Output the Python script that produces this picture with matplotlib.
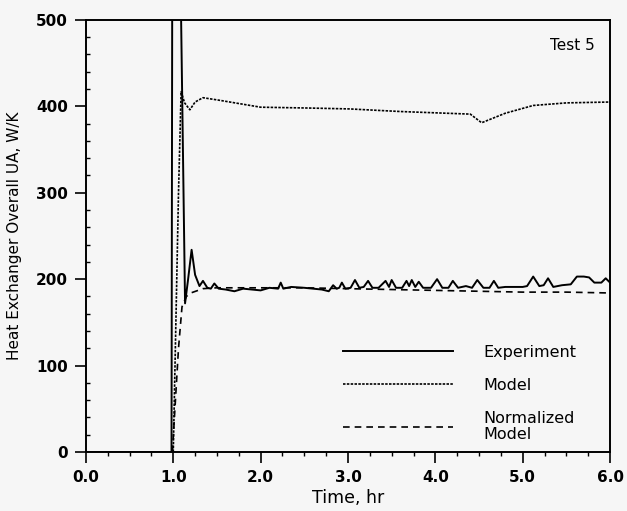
import matplotlib
matplotlib.use("Agg")
import matplotlib.pyplot as plt
from matplotlib.ticker import MultipleLocator, FormatStrFormatter

plt.rcParams['font.family'] = ['DejaVu Sans']

# Experiment (solid)
t_exp = [0, 0.98, 0.99, 1.075, 1.09, 1.135, 1.17, 1.21, 1.25, 1.30, 1.34, 1.39, 1.43, 1.47, 1.52,
         1.6, 1.7, 1.8, 1.9, 2.0, 2.1, 2.2, 2.23, 2.26, 2.35, 2.5, 2.6, 2.7, 2.78, 2.83, 2.87,
         2.90, 2.93, 2.97, 3.03, 3.08, 3.13, 3.18, 3.23, 3.28, 3.35, 3.43, 3.47, 3.50, 3.55,
         3.62, 3.67, 3.70, 3.73, 3.77, 3.81, 3.86, 3.95, 4.02, 4.08, 4.15, 4.20, 4.26, 4.35,
         4.42, 4.48, 4.55, 4.62, 4.67, 4.72, 4.8, 4.9, 5.0, 5.05, 5.12, 5.19, 5.24, 5.29, 5.35,
         5.45, 5.55, 5.62, 5.7, 5.76, 5.82, 5.9, 5.95, 6.0]
ua_exp = [0, 0, 650, 650, 500, 172, 200, 234, 205, 192, 198, 190, 189, 195, 189,
          188, 186, 189, 188, 187, 190, 189, 196, 189, 191, 190, 189, 188, 186, 193, 189,
          190, 196, 189, 190, 199, 190, 191, 198, 190, 190, 198, 191, 199, 190,
          190, 198, 192, 199, 191, 197, 190, 190, 200, 190, 190, 198, 190, 192,
          190, 199, 190, 190, 198, 190, 191, 191, 191, 192, 203, 192, 193, 201, 191,
          193, 194, 203, 203, 202, 196, 196, 201, 196]

# Model (dotted)
t_mod = [1.0, 1.06, 1.09, 1.13, 1.19, 1.25, 1.34, 1.53, 2.0, 2.57, 3.02, 3.6,
         4.40, 4.53, 4.8, 5.12, 5.5, 6.0]
ua_mod = [0, 300, 417, 404, 396, 405, 410, 407, 399, 398, 397, 394,
          391, 381, 392, 401, 404, 405]

# Normalized model (dashed)
t_norm = [0.99, 1.06, 1.10, 1.15, 1.2, 1.34, 1.5, 2.0, 2.5, 3.0, 3.5, 4.0, 4.5, 5.0, 5.5, 6.0]
ua_norm = [0, 120, 168, 180, 184, 189, 190, 190, 190, 189, 188, 187, 186, 185, 185, 184]

bg = '#f6f6f6'
fig = plt.figure(figsize=(6.27, 5.11), dpi=100, facecolor=bg)
ax = fig.add_axes([0.137, 0.1155, 0.836, 0.8455], facecolor=bg)

ax.plot(t_exp, ua_exp, color='black', lw=1.4, label='Experiment')
ax.plot(t_mod, ua_mod, color='black', lw=1.2, linestyle=(0, (1.5, 0.8)), label='Model')
ax.plot(t_norm, ua_norm, color='black', lw=1.2, linestyle=(0, (4, 3)), label='Normalized\nModel')

ax.set_xlim(0, 6)
ax.set_ylim(0, 500)
ax.xaxis.set_major_locator(MultipleLocator(1))
ax.xaxis.set_minor_locator(MultipleLocator(0.25))
ax.yaxis.set_major_locator(MultipleLocator(100))
ax.yaxis.set_minor_locator(MultipleLocator(20))
ax.xaxis.set_major_formatter(FormatStrFormatter('%.1f'))
ax.tick_params(axis='both', which='major', length=8, width=1.2, labelsize=11, pad=5)
ax.tick_params(axis='x', which='minor', length=3, width=1)
ax.tick_params(axis='y', which='minor', direction='in', length=3, width=1)
for lab in ax.get_xticklabels() + ax.get_yticklabels():
    lab.set_fontweight('bold')
for s in ax.spines.values():
    s.set_linewidth(1.4)

ax.set_xlabel('Time, hr', fontsize=12.5, labelpad=3)
ax.set_ylabel('Heat Exchanger Overall UA, W/K', fontsize=11, labelpad=10)
ax.text(0.97, 0.94, 'Test 5', transform=ax.transAxes, ha='right', va='center', fontsize=11)

leg = ax.legend(loc='lower right', bbox_to_anchor=(0.936, 0.022), frameon=False, fontsize=11.5,
                handlelength=6.9, handletextpad=1.9, labelspacing=1.15,
                borderaxespad=0, borderpad=0)
leg.get_texts()[2].set_linespacing(1.1)

fig.savefig('out.png', dpi=100, facecolor=bg)
